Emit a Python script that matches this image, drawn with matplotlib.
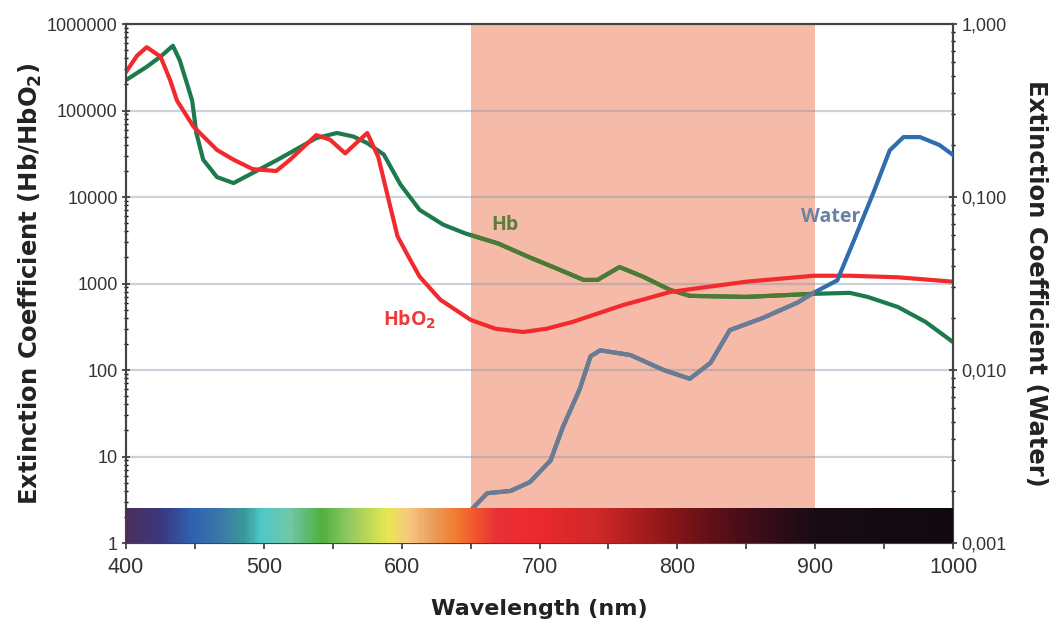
import numpy as np
import matplotlib
matplotlib.use("Agg")
import matplotlib.pyplot as plt
from matplotlib.colors import LinearSegmentedColormap
from matplotlib.patches import Rectangle
from matplotlib.ticker import FixedLocator, FuncFormatter, LogLocator, NullFormatter

plt.rcParams['font.family'] = ['Liberation Sans', 'DejaVu Sans']

# --- data ---
wl_hb = [400, 415, 425, 434, 439, 444, 448, 451, 456, 466, 478, 492, 510, 538, 553,
         565, 575, 587, 599, 613, 630, 646, 670, 693, 712, 732, 742, 758, 775, 795,
         809, 850, 899, 925, 938, 960, 980, 1000]
hb = [2.25e5, 3.2e5, 4.2e5, 5.6e5, 3.8e5, 2.1e5, 1.3e5, 5.5e4, 2.7e4, 1.7e4, 1.45e4,
      1.9e4, 2.7e4, 4.8e4, 5.5e4, 5.0e4, 4.2e4, 3.1e4, 1.4e4, 7.1e3, 4.8e3, 3.8e3,
      2.9e3, 2.0e3, 1.5e3, 1.1e3, 1.1e3, 1.55e3, 1.2e3, 840, 720, 700, 760, 780, 700,
      535, 360, 210]

wl_hbo2 = [400, 408, 415, 425, 432, 437, 449, 466, 478, 492, 509, 519, 538, 548, 559,
           567, 575, 583, 590, 597, 606, 613, 628, 650, 668, 688, 705, 724, 760, 795,
           850, 899, 925, 960, 1000]
hbo2 = [2.8e5, 4.3e5, 5.4e5, 4.2e5, 2.25e5, 1.3e5, 6.5e4, 3.5e4, 2.7e4, 2.1e4, 2.0e4,
        2.7e4, 5.2e4, 4.6e4, 3.2e4, 4.2e4, 5.5e4, 2.9e4, 1.0e4, 3.5e3, 1.9e3, 1.2e3,
        650, 380, 300, 275, 300, 360, 560, 800, 1.05e3, 1.23e3, 1.23e3, 1.18e3, 1.05e3]

wl_water = [645, 662, 679, 693, 708, 717, 729, 737, 744, 766, 790, 809, 824, 838, 862,
            887, 899, 916, 928, 942, 954, 964, 976, 990, 1000]
water = [0.0014, 0.00194, 0.002, 0.00225, 0.003, 0.0047, 0.0077, 0.012, 0.013, 0.0122,
         0.010, 0.0089, 0.011, 0.017, 0.020, 0.0245, 0.028, 0.033, 0.056, 0.105, 0.186,
         0.222, 0.222, 0.2, 0.175]

window = (650, 900)
left_ticks = [1, 10, 100, 1000, 10000, 100000, 1000000]
right_ticks = [0.001, 0.01, 0.1, 1]
x_ticks = [400, 500, 600, 700, 800, 900, 1000]

# visible spectrum stops (nm, colour)
spectrum = [(400, '#4a2f5c'), (425, '#3a3a82'), (445, '#3060b0'), (468, '#3a7aa8'),
            (485, '#3a9a9a'), (497, '#50c8c8'), (517, '#70c8a8'), (541, '#50b040'),
            (560, '#90c860'), (589, '#e8e850'), (604, '#f8c880'), (621, '#e8a060'),
            (637, '#f08030'), (655, '#f05030'), (669, '#e83038'), (693, '#ee2a30'),
            (742, '#d02828'), (790, '#901818'), (826, '#601018'), (862, '#3a0c18'),
            (900, '#180c14'), (1000, '#100a10')]

fig = plt.figure(figsize=(10.59, 6.24), dpi=100)
ax = fig.add_axes([0.119, 0.1298, 0.781, 0.8317])
ax2 = ax.twinx()

ax.set_xlim(400, 1000)
ax.set_yscale('log')
ax.set_ylim(1, 1e6)
ax2.set_yscale('log')
ax2.set_ylim(0.001, 1)

# shaded window
ax.axvspan(*window, color='#f5bba8', zorder=0.3, lw=0)
clip_box = Rectangle((window[0], 1), window[1] - window[0], 1e6,
                     transform=ax.transData)
clip_box2 = Rectangle((window[0], 0.001), window[1] - window[0], 1,
                      transform=ax2.transData)

ax.yaxis.grid(True, which='major', color='#8090a8', alpha=0.4, lw=1.6)
ax.set_axisbelow(True)

# curves
ax.plot(wl_hb, hb, color='#1d7a4c', lw=3, zorder=3, solid_joinstyle='round')
l_hb_in, = ax.plot(wl_hb, hb, color='#4e7a34', lw=3, zorder=3.1,
                   solid_joinstyle='round')
l_hb_in.set_clip_path(clip_box)
ax.plot(wl_hbo2, hbo2, color='#f22a2e', lw=3, zorder=4, solid_joinstyle='round')

ax2.plot(wl_water, water, color='#2f6db0', lw=3, zorder=3, solid_joinstyle='round')
l_w_in, = ax2.plot(wl_water, water, color='#6a7c92', lw=3, zorder=3.1,
                   solid_joinstyle='round')
l_w_in.set_clip_path(clip_box2)

# spectrum bar
cmap = LinearSegmentedColormap.from_list(
    'spec', [((w - 400) / 600, c) for w, c in spectrum])
grad = np.linspace(0, 1, 600).reshape(1, -1)
ax2.imshow(grad, cmap=cmap, aspect='auto', extent=(400, 1000, 0.001, 0.00161),
           zorder=5, interpolation='bilinear')
ax2.set_xlim(400, 1000)
ax2.set_ylim(0.001, 1)

# curve labels (placed in the right-axis frame, which is drawn on top)
lab_font = ['Open Sans', 'DejaVu Sans']
ax2.text(675, 0.069, 'Hb', color='#5b7d3e', fontsize=14, fontweight='bold',
         family=lab_font, ha='center', va='center', zorder=6)
ax2.text(606, 0.0195, 'HbO$_\\mathbf{2}$', color='#f03a3a', fontsize=14,
         fontweight='bold', family=lab_font, ha='center', va='center', zorder=6)
ax2.text(911, 0.0765, 'Water', color='#6a82a4', fontsize=14, fontweight='bold',
         family=lab_font, ha='center', va='center', zorder=6)

# axes styling
ax.set_xticks(x_ticks)
ax.set_xticks(np.arange(450, 1000, 100), minor=True)
ax.tick_params(axis='x', which='both', direction='out', length=4, width=1.2,
               labelsize=15.5, colors='#333333', pad=6)
ax.yaxis.set_major_locator(FixedLocator(left_ticks))
ax.yaxis.set_minor_locator(LogLocator(base=10, subs=np.arange(2, 10), numticks=20))
ax.yaxis.set_minor_formatter(NullFormatter())
ax.yaxis.set_major_formatter(FuncFormatter(lambda v, p: '%d' % v))
ax.tick_params(axis='y', which='major', direction='inout', length=6, width=1.2,
               labelsize=13, colors='#333333', pad=3)
ax.tick_params(axis='y', which='minor', direction='inout', length=3, width=1)

ax2.yaxis.set_major_locator(FixedLocator(right_ticks))
ax2.yaxis.set_minor_locator(LogLocator(base=10, subs=np.arange(2, 10), numticks=20))
ax2.yaxis.set_minor_formatter(NullFormatter())
ax2.yaxis.set_major_formatter(FuncFormatter(lambda v, p: ('%.3f' % v).replace('.', ',')))
ax2.tick_params(axis='y', which='major', direction='inout', length=6, width=1.2,
                labelsize=13, colors='#333333', pad=3)
ax2.tick_params(axis='y', which='minor', direction='inout', length=3, width=1)

for a in (ax, ax2):
    for s in a.spines.values():
        s.set_color('#444444')
        s.set_linewidth(1.5)

title_font = ['DejaVu Sans']
ax.set_xlabel('Wavelength (nm)', fontsize=16, fontweight='bold', color='#222222',
              family=title_font, labelpad=15)
ax.set_ylabel('Extinction Coefficient (Hb/HbO$_\\mathbf{2}$)', fontsize=17.5,
              fontweight='bold', color='#222222', family=title_font, labelpad=2)
ax2.set_ylabel('Extinction Coefficient (Water)', fontsize=17.5, fontweight='bold',
               color='#222222', family=title_font, rotation=270, labelpad=30)

fig.savefig('out.png', dpi=100)
